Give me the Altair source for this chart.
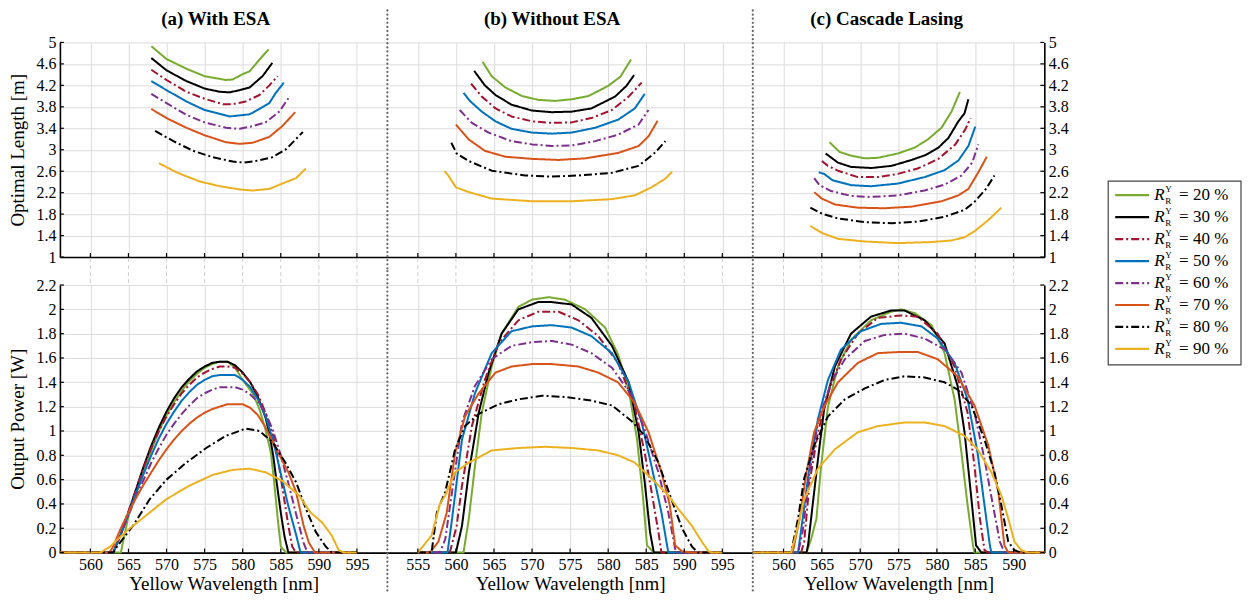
import altair as alt
import pandas as pd

FONT = "Liberation Serif"

SERIES = ["20 %", "30 %", "40 %", "50 %", "60 %", "70 %", "80 %", "90 %"]
COLORS = ["#77AC30", "#000000", "#A2142F", "#0072BD", "#7E2F8E", "#D95319", "#000000", "#EDB120"]
DASHES = [[1, 0], [1, 0], [8, 3, 2, 3], [1, 0], [8, 3, 2, 3], [1, 0], [8, 3, 2, 3], [1, 0]]

PANEL_TITLES = ["(a)  With ESA", "(b)  Without ESA", "(c)  Cascade Lasing"]

# x ranges / ticks
XDOM_A = [556, 599]
XDOM_B = [551, 599]
XDOM_C = [556, 594]
XT_A = [560, 565, 570, 575, 580, 585, 590, 595]
XT_B = [555, 560, 565, 570, 575, 580, 585, 590, 595]
XT_C = [560, 565, 570, 575, 580, 585, 590]
YT_LEN = [1, 1.4, 1.8, 2.2, 2.6, 3, 3.4, 3.8, 4.2, 4.6, 5]
YT_POW = [0, 0.2, 0.4, 0.6, 0.8, 1, 1.2, 1.4, 1.6, 1.8, 2, 2.2]

# ---------- (a) With ESA : optimal length ----------
a_len_20 = [(568.0, 4.93), (570, 4.69), (572.6, 4.51), (575, 4.37), (577.8, 4.30), (578.7, 4.31), (580, 4.41), (580.9, 4.46), (582.2, 4.68), (583.4, 4.87)]
a_len_30 = [(568, 4.71), (570, 4.48), (572.6, 4.28), (575, 4.14), (577, 4.08), (578.3, 4.07), (579.6, 4.11), (580.9, 4.16), (582.6, 4.37), (583.9, 4.62)]
a_len_40 = [(568, 4.49), (570, 4.30), (572.6, 4.08), (575, 3.95), (577.4, 3.85), (578.7, 3.85), (580.4, 3.90), (582.2, 4.02), (583.5, 4.20), (584.6, 4.37)]
a_len_50 = [(568, 4.28), (570, 4.11), (572.6, 3.90), (575, 3.74), (578.3, 3.62), (579.6, 3.64), (580.9, 3.66), (582.2, 3.76), (583.5, 3.87), (584.3, 4.05), (585.4, 4.25)]
a_len_60 = [(568, 4.04), (570, 3.87), (572.6, 3.65), (575, 3.51), (577.8, 3.41), (579.6, 3.39), (581.3, 3.44), (583, 3.51), (584.8, 3.71), (586, 3.96)]
a_len_70 = [(568, 3.76), (570, 3.59), (572.6, 3.41), (575, 3.27), (577.8, 3.14), (579.6, 3.11), (581.3, 3.13), (583.5, 3.24), (585.2, 3.44), (586.9, 3.70)]
a_len_80 = [(568.5, 3.35), (570.9, 3.16), (573.5, 2.98), (576.1, 2.86), (578.7, 2.78), (580.2, 2.76), (581.7, 2.79), (583.9, 2.86), (585.7, 3.01), (587.9, 3.33)]
a_len_90 = [(569, 2.75), (571.3, 2.58), (574.3, 2.41), (577, 2.32), (579.6, 2.26), (581.3, 2.24), (583.5, 2.27), (585.2, 2.37), (587, 2.47), (588.3, 2.65)]

# ---------- (b) Without ESA : optimal length ----------
b_len_20 = [(563.5, 4.64), (564.7, 4.37), (566.5, 4.16), (568.7, 4.00), (570.8, 3.93), (573, 3.91), (575.2, 3.94), (577.4, 4.00), (580, 4.19), (581.6, 4.36), (583, 4.68)]
b_len_30 = [(562.4, 4.47), (563.8, 4.20), (565.2, 4.02), (567.3, 3.84), (570, 3.73), (572.6, 3.70), (575.2, 3.71), (577.8, 3.77), (580.9, 3.99), (582.4, 4.19), (583.4, 4.39)]
b_len_40 = [(562, 4.23), (563.4, 3.99), (565.2, 3.77), (567.3, 3.62), (570, 3.53), (572.6, 3.50), (575.2, 3.51), (577.8, 3.59), (580.5, 3.74), (582.7, 3.99), (584.4, 4.25)]
b_len_50 = [(561, 4.06), (561.9, 3.90), (563.4, 3.71), (565.2, 3.53), (567.3, 3.39), (570, 3.32), (572.6, 3.30), (575.2, 3.32), (578.3, 3.41), (581.3, 3.56), (583.5, 3.77), (584.8, 4.04)]
b_len_60 = [(560.5, 3.74), (562.1, 3.50), (564.3, 3.32), (567.3, 3.16), (570, 3.10), (572.6, 3.07), (575.2, 3.08), (578.3, 3.16), (581.3, 3.28), (584, 3.47), (585.3, 3.74)]
b_len_70 = [(560, 3.47), (561.7, 3.19), (563.8, 2.98), (566.5, 2.87), (570, 2.83), (573.5, 2.81), (577, 2.84), (581.3, 2.94), (584, 3.07), (585.3, 3.25), (586.5, 3.54)]
b_len_80 = [(559.4, 3.13), (560.1, 2.93), (561.7, 2.79), (564.7, 2.61), (569.1, 2.52), (572.6, 2.50), (576.1, 2.52), (580.5, 2.57), (584, 2.70), (586.2, 2.95), (587.5, 3.16)]
b_len_90 = [(558.5, 2.60), (559, 2.52), (560, 2.30), (561.7, 2.21), (564.7, 2.09), (570, 2.04), (575.2, 2.04), (580.5, 2.08), (583.5, 2.15), (585.7, 2.30), (587.5, 2.46), (588.4, 2.59)]

# ---------- (c) Cascade Lasing : optimal length ----------
c_len_20 = [(566, 3.14), (567.3, 2.96), (568.8, 2.89), (570.6, 2.84), (572.3, 2.85), (574.9, 2.93), (577.1, 3.04), (578.8, 3.19), (580.6, 3.41), (581.9, 3.71), (583, 4.08)]
c_len_30 = [(565.5, 2.93), (567.1, 2.76), (568.8, 2.68), (571.5, 2.66), (574.1, 2.70), (576.7, 2.81), (578.5, 2.90), (580.2, 3.04), (581.5, 3.22), (582.8, 3.53), (583.6, 3.68), (584.1, 3.94)]
c_len_40 = [(565, 2.79), (565.8, 2.70), (567.1, 2.61), (569.7, 2.49), (572.3, 2.49), (574.9, 2.55), (577.5, 2.65), (580.2, 2.83), (582.4, 3.10), (583.7, 3.38), (584.4, 3.59)]
c_len_50 = [(564.6, 2.58), (565.3, 2.55), (566.4, 2.43), (568.8, 2.34), (571.4, 2.32), (574.9, 2.37), (578.4, 2.49), (581, 2.62), (582.8, 2.80), (584.1, 3.07), (585, 3.43)]
c_len_60 = [(564, 2.47), (564.7, 2.34), (566.2, 2.23), (568.8, 2.14), (571.4, 2.12), (574.9, 2.15), (578.4, 2.24), (581, 2.35), (583.2, 2.52), (584.6, 2.76), (585.4, 3.10)]
c_len_70 = [(564, 2.21), (565, 2.09), (566.7, 1.98), (569.7, 1.92), (573.2, 1.91), (576.7, 1.94), (580.6, 2.04), (582.8, 2.15), (584.1, 2.27), (585.4, 2.58), (586.5, 2.87)]
c_len_80 = [(563.5, 1.92), (565, 1.81), (567.1, 1.72), (570.6, 1.65), (574.1, 1.63), (577.5, 1.66), (581, 1.75), (583.6, 1.88), (584.9, 2.03), (586.4, 2.27), (587.5, 2.52)]
c_len_90 = [(563.5, 1.58), (565, 1.45), (567.1, 1.34), (570.6, 1.29), (574.9, 1.26), (579.3, 1.28), (581.9, 1.31), (583.6, 1.37), (584.9, 1.48), (586.7, 1.69), (588.4, 1.92)]

# ---------- (a) With ESA : output power ----------
a_pow_20 = [(556, 0), (564, 0), (564.5, 0.15), (565, 0.3), (566, 0.48), (567, 0.66), (568, 0.84), (569, 1.0), (570, 1.13), (571, 1.24), (572, 1.33), (573, 1.41), (574, 1.47), (575, 1.52), (576, 1.55), (577, 1.57), (578, 1.57), (579, 1.52), (580, 1.42), (581.3, 1.31), (582.2, 1.18), (583, 1.01), (583.7, 0.82), (584.1, 0.6), (584.6, 0.28), (585, 0.05), (585.7, 0), (595, 0)]
a_pow_30 = [(556, 0), (563, 0), (564, 0.15), (565, 0.33), (566, 0.52), (567, 0.71), (568, 0.88), (569, 1.03), (570, 1.16), (571, 1.27), (572, 1.36), (573, 1.43), (574, 1.49), (575, 1.53), (576, 1.56), (577, 1.57), (578, 1.57), (579, 1.54), (580, 1.48), (581, 1.40), (582, 1.28), (583, 1.11), (583.5, 0.98), (584, 0.80), (584.5, 0.56), (585, 0.33), (585.5, 0.13), (586, 0), (595, 0)]
a_pow_40 = [(556, 0), (563, 0), (564, 0.16), (565, 0.34), (566, 0.52), (567, 0.70), (568, 0.86), (569, 1.0), (570, 1.12), (571, 1.22), (572, 1.31), (573, 1.38), (574, 1.44), (575, 1.48), (576, 1.51), (577, 1.53), (578, 1.53), (579, 1.52), (580, 1.47), (581, 1.40), (582, 1.30), (583, 1.15), (584, 0.96), (584.5, 0.82), (585, 0.62), (585.5, 0.42), (586, 0.22), (586.5, 0.05), (587, 0), (595, 0)]
a_pow_50 = [(556, 0), (563, 0), (564, 0.15), (565, 0.32), (566, 0.49), (567, 0.65), (568, 0.80), (569, 0.94), (570, 1.06), (571, 1.16), (572, 1.25), (573, 1.32), (574, 1.38), (575, 1.42), (576, 1.45), (577, 1.46), (578, 1.46), (579, 1.46), (580, 1.42), (581, 1.36), (582, 1.26), (583, 1.12), (584, 0.92), (585, 0.65), (586, 0.38), (587, 0.15), (587.6, 0), (595, 0)]
a_pow_60 = [(556, 0), (563, 0), (564, 0.15), (565, 0.31), (566, 0.46), (567, 0.60), (568, 0.74), (569, 0.86), (570, 0.97), (571, 1.06), (572, 1.14), (573, 1.21), (574, 1.27), (575, 1.31), (576, 1.34), (577, 1.36), (578, 1.36), (579, 1.36), (580, 1.34), (581, 1.30), (582, 1.24), (583, 1.15), (584, 1.0), (585, 0.80), (586, 0.57), (587, 0.32), (588, 0.08), (588.5, 0), (595, 0)]
a_pow_70 = [(556, 0), (562.5, 0), (563, 0.05), (564, 0.2), (565, 0.33), (566, 0.45), (567, 0.56), (568, 0.66), (569, 0.76), (570, 0.85), (571, 0.93), (572, 1.0), (573, 1.06), (574, 1.11), (575, 1.15), (576, 1.18), (577, 1.20), (578, 1.22), (579, 1.22), (580, 1.22), (581, 1.19), (582, 1.13), (583, 1.03), (584, 0.9), (585, 0.78), (586, 0.66), (587, 0.50), (588, 0.22), (588.7, 0.08), (589.5, 0), (595, 0)]
a_pow_80 = [(556, 0), (563, 0), (563.5, 0.05), (565.7, 0.23), (567.8, 0.44), (570, 0.6), (572.6, 0.74), (575.2, 0.86), (577.8, 0.96), (580.4, 1.02), (582.2, 1.0), (583.9, 0.91), (585.6, 0.74), (587, 0.58), (588.3, 0.36), (589.6, 0.17), (590.9, 0.05), (591.7, 0), (595, 0)]
a_pow_90 = [(556, 0), (561.3, 0), (562.6, 0.05), (564.8, 0.18), (567, 0.29), (570, 0.44), (573, 0.55), (576.1, 0.64), (578.7, 0.68), (580.9, 0.69), (583, 0.66), (585.2, 0.59), (587.4, 0.47), (588.9, 0.33), (590.4, 0.25), (591.7, 0.14), (592.6, 0.02), (593.3, 0), (595, 0)]

# ---------- (b) Without ESA : output power ----------
b_pow_20 = [(555, 0), (561, 0), (561.7, 0.28), (562.5, 0.71), (563.4, 1.15), (564.7, 1.53), (566, 1.80), (568.2, 2.02), (570, 2.08), (572.2, 2.10), (574.3, 2.08), (577, 2.0), (579.6, 1.85), (581.3, 1.63), (582.7, 1.34), (583.8, 0.93), (584.6, 0.44), (585.1, 0.06), (586, 0), (595, 0)]
b_pow_30 = [(555, 0), (560, 0), (560.8, 0.22), (561.7, 0.66), (563, 1.15), (564.3, 1.48), (566, 1.8), (568.2, 2.0), (570.8, 2.06), (572.6, 2.06), (575.2, 2.04), (577.8, 1.93), (580.5, 1.70), (582.7, 1.40), (584, 0.99), (584.8, 0.58), (585.5, 0.17), (586, 0), (595, 0)]
b_pow_40 = [(555, 0), (559.2, 0), (560.1, 0.22), (560.8, 0.55), (562.1, 1.04), (563.8, 1.42), (565.6, 1.72), (568.2, 1.91), (570.8, 1.98), (573.5, 1.98), (576.1, 1.91), (578.7, 1.78), (581.3, 1.56), (583.5, 1.2), (584.8, 0.82), (585.7, 0.5), (586.6, 0.17), (587, 0), (595, 0)]
b_pow_50 = [(555, 0), (558.9, 0), (559.5, 0.28), (560.8, 0.93), (562.5, 1.31), (564.7, 1.64), (567.3, 1.82), (570, 1.86), (572.6, 1.87), (575.2, 1.85), (577.8, 1.78), (580.5, 1.64), (582.7, 1.40), (584.4, 1.07), (585.7, 0.71), (587, 0.33), (587.9, 0), (595, 0)]
b_pow_60 = [(555, 0), (557.9, 0), (558.6, 0.11), (559.5, 0.5), (560.8, 1.07), (562.5, 1.37), (564.7, 1.59), (567.3, 1.70), (570, 1.73), (572.6, 1.74), (575.2, 1.71), (577.8, 1.64), (580.5, 1.52), (583.1, 1.29), (584.8, 1.01), (586.6, 0.66), (587.9, 0.33), (588.8, 0.03), (589, 0), (595, 0)]
b_pow_70 = [(555, 0), (556.6, 0), (557.7, 0.09), (558.8, 0.33), (559.9, 0.82), (561.2, 1.12), (563, 1.31), (565.2, 1.48), (567.3, 1.53), (570, 1.55), (572.6, 1.55), (576.1, 1.53), (578.7, 1.48), (581.3, 1.40), (583.5, 1.23), (585.3, 0.99), (587, 0.66), (588.1, 0.39), (588.8, 0.06), (589.7, 0.01), (591, 0), (595, 0)]
b_pow_80 = [(555, 0), (556.8, 0), (557.5, 0.33), (558.6, 0.5), (559.9, 0.85), (561.2, 1.04), (563, 1.14), (565.6, 1.22), (568.2, 1.26), (571.3, 1.29), (574.3, 1.28), (577.8, 1.25), (580.5, 1.21), (583.1, 1.08), (584.8, 0.96), (586.6, 0.74), (588.3, 0.44), (589.7, 0.2), (591, 0.05), (591.8, 0), (595, 0)]
b_pow_90 = [(555, 0), (556.8, 0.14), (557.9, 0.4), (558.6, 0.47), (559.9, 0.66), (561.7, 0.74), (564.7, 0.84), (568.2, 0.86), (571.7, 0.87), (575.2, 0.86), (578.7, 0.84), (581.3, 0.80), (583.5, 0.74), (585.7, 0.61), (587.9, 0.47), (589.2, 0.36), (591, 0.22), (592.3, 0.09), (593.2, 0.01), (593.6, 0), (595, 0)]

# ---------- (c) Cascade Lasing : output power ----------
c_pow_20 = [(556, 0), (563, 0), (563.6, 0.11), (564.3, 0.28), (564.9, 0.71), (565.8, 1.2), (567.1, 1.53), (568.8, 1.75), (571.4, 1.91), (574, 1.98), (575.3, 2.0), (577.1, 1.97), (579.3, 1.87), (581, 1.64), (582.3, 1.26), (583.2, 0.82), (584, 0.39), (584.7, 0.06), (584.9, 0), (594, 0)]
c_pow_30 = [(556, 0), (563, 0), (563.2, 0.06), (563.8, 0.39), (564.5, 0.77), (565.3, 1.18), (566.7, 1.53), (568.8, 1.80), (571.4, 1.94), (574, 1.99), (575.8, 1.99), (578.4, 1.91), (581, 1.72), (582.7, 1.37), (583.6, 0.99), (584.5, 0.44), (585.1, 0.06), (585.8, 0), (594, 0)]
c_pow_40 = [(556, 0), (562.3, 0), (562.7, 0.09), (563.4, 0.58), (564.5, 0.99), (565.8, 1.31), (567.5, 1.59), (569.7, 1.80), (572.3, 1.93), (575.3, 1.95), (577.5, 1.94), (580.1, 1.80), (582.3, 1.53), (584, 1.15), (584.9, 0.71), (585.6, 0.28), (586.2, 0.02), (586.7, 0), (594, 0)]
c_pow_50 = [(556, 0), (561.9, 0), (562.5, 0.28), (563.4, 0.71), (564.5, 1.10), (565.8, 1.42), (567.5, 1.67), (570.1, 1.82), (572.7, 1.88), (575.3, 1.89), (578, 1.86), (580.1, 1.76), (582.3, 1.56), (584, 1.26), (585.3, 0.82), (586.2, 0.39), (586.9, 0.06), (587.1, 0), (594, 0)]
c_pow_60 = [(556, 0), (561.9, 0), (562.5, 0.17), (563.4, 0.66), (564.5, 1.07), (566.2, 1.40), (568, 1.59), (570.6, 1.74), (573.2, 1.79), (575.8, 1.80), (578.4, 1.76), (581, 1.67), (583.2, 1.48), (584.9, 1.15), (586.2, 0.77), (587.3, 0.39), (588.2, 0.09), (588.8, 0), (594, 0)]
c_pow_70 = [(556, 0), (561.2, 0), (562.1, 0.28), (563, 0.66), (564, 0.99), (565.3, 1.2), (567.1, 1.40), (569.7, 1.56), (572.3, 1.64), (575.3, 1.65), (577.5, 1.65), (580.1, 1.59), (582.7, 1.45), (584.9, 1.21), (586.7, 0.88), (588, 0.50), (588.8, 0.06), (589.3, 0), (594, 0)]
c_pow_80 = [(556, 0), (561, 0), (561.9, 0.28), (562.7, 0.61), (564, 0.88), (565.8, 1.12), (568, 1.26), (570.6, 1.35), (573.2, 1.42), (575.8, 1.45), (578.4, 1.44), (581, 1.40), (582.7, 1.34), (584.5, 1.21), (586.2, 0.93), (587.5, 0.66), (588.4, 0.39), (589.3, 0.09), (590.1, 0.02), (591, 0), (594, 0)]
c_pow_90 = [(556, 0), (561, 0), (561.7, 0.17), (562.7, 0.44), (564.5, 0.69), (566.7, 0.85), (569.7, 0.99), (572.3, 1.04), (575.8, 1.07), (578.4, 1.07), (581, 1.04), (583.6, 0.96), (585.3, 0.85), (587.1, 0.66), (588.4, 0.47), (589.3, 0.28), (590.1, 0.09), (591, 0.02), (591.9, 0), (594, 0)]

# ---------------- layout sizes ----------------
W_A, W_B, W_C = 328, 366, 292
H_TOP, H_BOT, GAP = 215, 268, 28
GRID = "#dcdcdc"


def make_df(curves):
    rows = []
    for s, pts in zip(SERIES, curves):
        for i, (x, y) in enumerate(pts):
            rows.append({"x": x, "y": y, "s": s, "i": i})
    return pd.DataFrame(rows)


COLOR = alt.Color("s:N", scale=alt.Scale(domain=SERIES, range=COLORS), legend=None)
DASH = alt.StrokeDash("s:N", scale=alt.Scale(domain=SERIES, range=DASHES), legend=None)


def panel(curves, xdom, xticks, ydom, yticks, w, h, bottom, yside,
          title=None, title_dx=0, ytitle=None, sep=False):
    if bottom:
        xaxis = alt.Axis(values=xticks, format="d", ticks=False, labelPadding=4,
                         title="Yellow Wavelength [nm]", titlePadding=2, grid=True)
    else:
        xaxis = alt.Axis(values=xticks, labels=False, ticks=False, title=None, grid=True)
    if yside == "left":
        yaxis = alt.Axis(values=yticks, format="~g", orient="left", ticks=False,
                         labelPadding=4, title=ytitle, titlePadding=8, grid=True)
    elif yside == "right":
        yaxis = alt.Axis(values=yticks, format="~g", orient="right", ticks=False,
                         labelPadding=4, title=None, grid=True)
    else:
        yaxis = alt.Axis(values=yticks, labels=False, ticks=False, domain=False,
                         title=None, grid=True)
    X = alt.X("x:Q", scale=alt.Scale(domain=xdom, nice=False, zero=False), axis=xaxis)
    Y = alt.Y("y:Q", scale=alt.Scale(domain=ydom, nice=False, zero=False), axis=yaxis)

    one = pd.DataFrame({"k": [0]})
    layers = []
    # dashed grid continuation in the gap between rows
    if bottom:
        layers.append(
            alt.Chart(pd.DataFrame({"x": xticks})).mark_rule(
                color="#cfcfcf", strokeWidth=1, strokeDash=[4, 3]
            ).encode(x=X, y=alt.value(-GAP + 1), y2=alt.value(0))
        )
    lines = alt.Chart(make_df(curves)).mark_line(strokeWidth=2, strokeJoin="round").encode(
        x=X, y=Y, color=COLOR, strokeDash=DASH, order=alt.Order("i:Q")
    )
    layers.append(lines)
    # inward ticks on x axis
    layers.append(
        alt.Chart(pd.DataFrame({"x": xticks})).mark_rule(color="black", strokeWidth=1.2).encode(
            x=X, y=alt.value(h), y2=alt.value(h - 4)
        )
    )
    if yside == "left":
        layers.append(
            alt.Chart(pd.DataFrame({"y": yticks})).mark_rule(color="black", strokeWidth=1.2).encode(
                y=Y, x=alt.value(0), x2=alt.value(4)
            )
        )
    elif yside == "right":
        layers.append(
            alt.Chart(pd.DataFrame({"y": yticks})).mark_rule(color="black", strokeWidth=1.2).encode(
                y=Y, x=alt.value(w - 4), x2=alt.value(w)
            )
        )
    if sep:
        if bottom:
            y0, y1 = -GAP / 2, h + 41
        else:
            y0, y1 = -32, h + GAP / 2
        layers.append(
            alt.Chart(one).mark_rule(
                color="#666666", strokeWidth=2.2, strokeDash=[0.1, 4], strokeCap="round"
            ).encode(x=alt.value(0), y=alt.value(y0), y2=alt.value(y1))
        )
    if title:
        layers.append(
            alt.Chart(one).mark_text(
                font=FONT, fontSize=19, fontWeight="bold", color="black",
                align="center", baseline="alphabetic"
            ).encode(x=alt.value(w / 2 + title_dx), y=alt.value(-17), text=alt.value(title))
        )
    return alt.layer(*layers).properties(width=w, height=h)


topA = panel([a_len_20, a_len_30, a_len_40, a_len_50, a_len_60, a_len_70, a_len_80, a_len_90],
             XDOM_A, XT_A, [1, 5], YT_LEN, W_A, H_TOP, False, "left",
             title=PANEL_TITLES[0], title_dx=-8, ytitle="Optimal Length [m]")
topB = panel([b_len_20, b_len_30, b_len_40, b_len_50, b_len_60, b_len_70, b_len_80, b_len_90],
             XDOM_B, XT_B, [1, 5], YT_LEN, W_B, H_TOP, False, "none",
             title=PANEL_TITLES[1], title_dx=-18, sep=True)
topC = panel([c_len_20, c_len_30, c_len_40, c_len_50, c_len_60, c_len_70, c_len_80, c_len_90],
             XDOM_C, XT_C, [1, 5], YT_LEN, W_C, H_TOP, False, "right",
             title=PANEL_TITLES[2], title_dx=-12, sep=True)
botA = panel([a_pow_20, a_pow_30, a_pow_40, a_pow_50, a_pow_60, a_pow_70, a_pow_80, a_pow_90],
             XDOM_A, XT_A, [0, 2.2], YT_POW, W_A, H_BOT, True, "left",
             ytitle="Output Power [W]")
botB = panel([b_pow_20, b_pow_30, b_pow_40, b_pow_50, b_pow_60, b_pow_70, b_pow_80, b_pow_90],
             XDOM_B, XT_B, [0, 2.2], YT_POW, W_B, H_BOT, True, "none", sep=True)
botC = panel([c_pow_20, c_pow_30, c_pow_40, c_pow_50, c_pow_60, c_pow_70, c_pow_80, c_pow_90],
             XDOM_C, XT_C, [0, 2.2], YT_POW, W_C, H_BOT, True, "right", sep=True)

# ---------------- legend ----------------
leg_df = pd.DataFrame({"s": SERIES, "txt": ["= " + s for s in SERIES]})
LY = alt.Y("s:N", scale=alt.Scale(type="point", domain=SERIES, range=[153, 307], padding=0), axis=None)
box = alt.Chart(pd.DataFrame({"k": [0]})).mark_rect(
    fill="white", stroke="#444444", strokeWidth=1.2
).encode(x=alt.value(64), x2=alt.value(197), y=alt.value(139), y2=alt.value(323))
leg_lines = alt.Chart(leg_df).mark_rule(strokeWidth=2.2).encode(
    y=LY, x=alt.value(71), x2=alt.value(105), color=COLOR, strokeDash=DASH)
leg_R = alt.Chart(leg_df).mark_text(
    align="left", baseline="middle", font=FONT, fontSize=17, fontStyle="italic", color="black"
).encode(y=LY, x=alt.value(110), text=alt.value("R"))
leg_sup = alt.Chart(leg_df).mark_text(
    align="left", baseline="middle", font=FONT, fontSize=9, dy=-6, color="black"
).encode(y=LY, x=alt.value(121), text=alt.value("Y"))
leg_sub = alt.Chart(leg_df).mark_text(
    align="left", baseline="middle", font=FONT, fontSize=9, dy=6, color="black"
).encode(y=LY, x=alt.value(121), text=alt.value("R"))
leg_eq = alt.Chart(leg_df).mark_text(
    align="left", baseline="middle", font=FONT, fontSize=17, color="black"
).encode(y=LY, x=alt.value(135), text="txt:N")
legend = alt.layer(box, leg_lines, leg_R, leg_sup, leg_sub, leg_eq).properties(width=197, height=H_TOP)

chart = alt.concat(
    topA, topB, topC, legend, botA, botB, botC,
    columns=4, spacing={"row": GAP, "column": 0}, bounds="flush", align="each"
).properties(
    padding={"left": 1, "top": 0, "right": 2, "bottom": 0}
).configure_view(
    stroke=None
).configure_axis(
    labelFont=FONT, labelFontSize=16, labelColor="black",
    titleFont=FONT, titleFontSize=19, titleFontWeight="normal", titleColor="black",
    gridColor=GRID, gridWidth=1, domainColor="black", domainWidth=1.6
)

chart.save("out.html", embed_options={"renderer": "svg", "actions": False})
